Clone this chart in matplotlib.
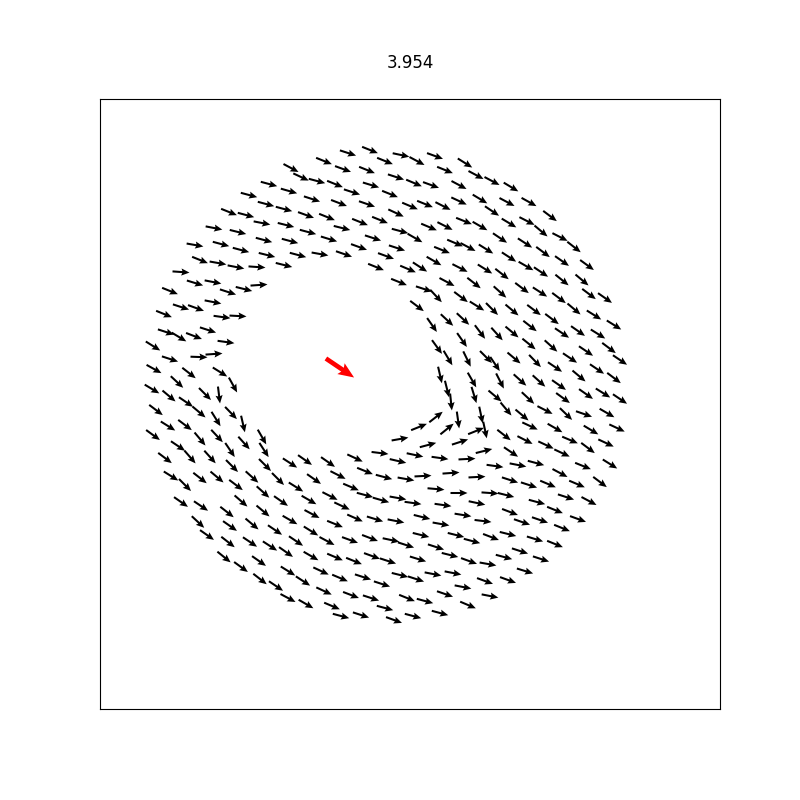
import numpy as np
import matplotlib
matplotlib.use("Agg")
import matplotlib.pyplot as plt

# boid positions (screen pixels) and headings (deg, clockwise from +x)
boid_x = [
    291, 301, 269, 289, 249, 266, 284, 306, 229, 246, 262, 286, 308, 214, 238, 264, 290, 195, 221, 241,
    267, 298, 200, 218, 236, 257, 284, 181, 195, 213, 244, 259, 228, 170, 213,
    370, 348, 401, 417, 435, 324, 385, 465, 343, 367, 445, 476, 317, 335, 371, 396, 414, 431, 459, 352,
    390, 312, 339, 367, 410, 425, 443, 459, 327, 360, 380, 396, 464, 429, 445, 342, 400, 415, 329, 373,
    455, 468, 359, 397, 442, 320, 344, 386, 434, 376, 408, 420, 460, 399, 447, 424, 436, 461,
    492, 511, 480, 507, 529, 492, 550, 480, 509, 527, 541, 560, 574, 500, 525, 486, 509, 543, 562, 587,
    485, 502, 526, 541, 562, 582, 474, 500, 522, 540, 559, 589, 605,
    181, 196, 164, 222, 238, 166, 179, 194, 208, 153, 226, 170, 199, 214, 154, 189, 220, 233, 177, 152,
    169, 205, 219, 186, 199, 156, 231, 243, 216, 168, 185, 153, 200, 217, 244, 262, 178, 230, 264, 165,
    190, 210, 290, 305,
    232, 265, 171, 185, 200, 217, 236, 252, 278, 296, 263, 181, 201, 227, 241, 263, 281, 290, 198, 230,
    252, 275, 207, 228, 250, 270, 286, 296, 224, 241, 259, 288, 303, 260, 276, 288,
    328, 355, 398, 440, 467, 314, 338, 365, 384, 406, 423, 451, 477, 351, 436, 459, 330, 365, 381, 398,
    413, 443, 477, 309, 342, 312, 355, 375, 396, 422, 441, 463, 335, 311, 327, 350, 370, 391, 406, 421,
    436, 456, 472, 311, 335, 354, 372, 388, 418, 450, 469, 321, 340, 363, 382, 400, 416, 433, 453, 324,
    351, 371, 407, 425, 445, 463, 306, 332, 385, 440, 468, 341, 361, 394, 413,
    380, 415, 417, 432, 447, 463, 437, 462, 448, 467, 440, 447, 472, 451, 458, 436, 419, 447, 400, 428,
    460, 476,
    495, 518, 536, 560, 583, 610, 510, 529, 548, 577, 600, 490, 506, 537, 566, 589, 555, 510, 483, 522,
    540, 578, 562, 491, 508, 535, 555, 520, 504, 541, 488, 525, 485, 508, 490,
    477, 492, 512, 534, 552, 574, 594, 614, 480, 497, 512, 530, 562, 578, 598, 529, 551, 586, 609, 620,
    486, 495, 514, 535, 555, 570, 579, 597, 614, 500, 520, 539, 559, 474, 481, 485, 495, 506, 528, 522,
    545, 563, 566, 584, 586, 603, 620, 607, 504, 530, 555, 591, 617, 484, 511, 525, 546, 570, 562, 588,
    606,
]
boid_y = [
    168, 177, 184, 191, 195, 204, 209, 215, 212, 215, 223, 225, 232, 228, 232, 240, 241, 245, 244, 250,
    255, 255, 260, 263, 267, 267, 265, 272, 283, 282, 289, 285, 292, 291, 302,
    150, 153, 155, 161, 156, 161, 161, 163, 169, 170, 170, 175, 181, 184, 185, 177, 183, 185, 185, 192,
    194, 199, 203, 204, 206, 204, 206, 201, 217, 222, 220, 213, 221, 227, 226, 228, 231, 238, 239, 238,
    243, 247, 247, 248, 250, 254, 254, 256, 261, 267, 269, 267, 268, 282, 282, 289, 296, 297,
    181, 187, 199, 202, 202, 211, 216, 226, 223, 221, 231, 237, 247, 238, 243, 249, 257, 252, 261, 265,
    269, 274, 266, 272, 280, 280, 283, 292, 288, 292, 298, 294, 298,
    307, 308, 314, 317, 316, 332, 337, 336, 330, 346, 342, 359, 357, 354, 369, 373, 372, 385, 382, 389,
    396, 394, 395, 402, 412, 410, 413, 424, 419, 426, 425, 435, 439, 436, 443, 437, 446, 450, 450, 458,
    457, 457, 463, 460,
    466, 465, 476, 485, 478, 477, 485, 477, 479, 487, 492, 502, 506, 512, 501, 511, 501, 520, 522, 526,
    524, 530, 535, 542, 542, 546, 552, 541, 557, 567, 561, 571, 581, 579, 586, 598,
    462, 458, 461, 458, 459, 479, 475, 471, 477, 479, 476, 473, 477, 487, 489, 493, 496, 495, 500, 498,
    503, 505, 503, 500, 506, 514, 518, 519, 521, 517, 524, 515, 524, 531, 541, 540, 538, 540, 545, 535,
    547, 535, 541, 556, 557, 561, 556, 561, 559, 555, 561, 571, 578, 577, 584, 575, 579, 574, 573, 591,
    595, 598, 598, 601, 594, 587, 604, 606, 608, 613, 605, 616, 615, 620, 616,
    453, 455, 306, 325, 320, 319, 347, 340, 358, 359, 375, 389, 380, 402, 420, 417, 427, 429, 439, 445,
    442, 431,
    466, 465, 463, 473, 466, 464, 480, 485, 484, 484, 482, 493, 495, 502, 497, 501, 510, 512, 521, 522,
    520, 519, 528, 537, 534, 539, 544, 551, 557, 559, 564, 571, 581, 580, 596,
    306, 309, 310, 310, 319, 309, 315, 325, 332, 334, 332, 326, 333, 331, 334, 344, 346, 351, 348, 360,
    357, 364, 358, 361, 367, 358, 376, 369, 378, 381, 380, 381, 385, 395, 415, 430, 396, 409, 398, 415,
    410, 398, 414, 414, 394, 393, 399, 413, 435, 426, 428, 430, 428, 451, 452, 440, 445, 440, 453, 448,
    443,
]
boid_heading = [
    28, 25, 15, 16, 15, 15, 15, 20, 22, 15, 11, 14, 15, 11, 14, 15, 15, 10, 15, 15,
    14, 15, 22, 10, 11, 4, 14, 4, 17, 11, 14, -4, 18, 22, 11,
    22, 18, 12, 28, 20, 22, 22, 32, 20, 22, 22, 28, 15, 22, 17, 18, 23, 20, 28, 18,
    22, 18, 21, 19, 23, 22, 27, 25, 22, 22, 22, 25, 22, 23, 27, 14, 15, 30, 17, 18,
    23, 28, 20, 18, 22, 10, 19, 20, 30, 22, 23, 33, 27, 22, 28, 18, 47, 37,
    28, 31, 31, 28, 29, 34, 37, 30, 31, 27, 40, 27, 38, 34, 33, 32, 33, 37, 35, 36,
    32, 38, 30, 34, 39, 40, 38, 42, 37, 33, 37, 37, 35,
    18, 20, 22, 8, 3, 18, 31, 21, 18, 32, 8, 18, 2, -4, 29, 38, 32, 61, 43, 31,
    40, 45, 83, 34, 40, 37, 46, 77, 58, 32, 37, 36, 50, 47, 48, 60, 34, 56, 57, 37,
    49, 48, 33, 35,
    45, 45, 32, 45, 38, 40, 37, 42, 45, 32, 42, 35, 34, 38, 41, 40, 35, 30, 43, 35,
    40, 34, 35, 38, 34, 33, 35, 34, 39, 36, 35, 32, 33, 38, 34, 28,
    35, 25, 13, 8, -3, 35, 27, 22, 15, 10, -3, -4, -3, 23, 5, 0, 27, 15, 16, 10,
    8, 8, 12, 30, 25, 28, 24, 17, 11, 14, 10, 9, 22, 32, 28, 20, 21, 12, 18, 14,
    18, 14, 15, 30, 23, 22, 20, 18, 17, 14, 20, 25, 23, 18, 18, 14, 18, 11, 11, 25,
    21, 18, 22, 15, 19, 11, 30, 23, 15, 15, 23, 15, 18, 20, 15,
    7, 12, 37, 55, 43, 43, 54, 55, 59, 64, 77, 76, 60, 84, 82, -38, -22, -39, -10, -15,
    -18, -22,
    8, 11, 15, 28, 22, 32, 18, 18, 23, 23, 37, 4, 14, 15, 18, 28, 22, 21, 7, 19,
    19, 20, 22, 21, 14, 17, 22, 18, 15, 18, 10, 17, 20, 20, 11,
    32, 45, 40, 37, 37, 40, 32, 32, 53, 48, 40, 38, 34, 35, 32, 39, 42, 34, 37, 34,
    45, 56, 40, 46, 34, 34, 40, 34, 37, 63, 42, 42, 35, 73, 78, 78, 40, 50, 43, 40,
    27, 36, 44, 19, 35, 32, 34, 30, 38, 25, 30, 31, 25, -14, 34, 27, 25, 23, 25, 37,
    25,
]

# the red (predator / leader) boid
leader_x = [340]
leader_y = [368]
leader_heading = [34]

title = "3.954"

bx = np.array(boid_x, dtype=float)
by = np.array(boid_y, dtype=float)
bh = np.radians(boid_heading)
lh = np.radians(leader_heading)

fig, ax = plt.subplots(figsize=(8, 8), dpi=100)

ax.quiver(bx, by, np.cos(bh), np.sin(bh), pivot='middle',
          angles='xy', scale_units='xy', scale=1 / 17.0,
          color='black', width=0.0033, headwidth=3.5, headlength=4, headaxislength=3.5)
ax.quiver(leader_x, leader_y, np.cos(lh), np.sin(lh), pivot='middle',
          angles='xy', scale_units='xy', scale=1 / 34.0,
          color='red', width=0.0075, headwidth=2.8, headlength=3.4, headaxislength=3.0)

ax.set_xlim(100, 720)
ax.set_ylim(709, 99)
ax.set_aspect('equal')
ax.set_xticks([])
ax.set_yticks([])
ax.set_title(title, pad=22)

plt.savefig("out.png", dpi=100)
